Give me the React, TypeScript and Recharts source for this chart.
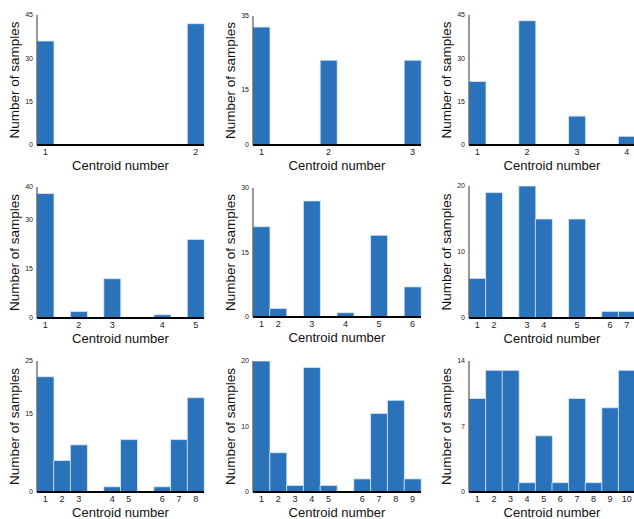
import { BarChart, Bar, XAxis, YAxis } from 'recharts';

// slot positions (0..9) of each centroid along the axis, and samples per centroid
const slotsK2 = [0, 9];
const countsK2 = [36, 42];
const slotsK3 = [0, 4, 9];
const countsK3 = [32, 23, 23];
const slotsK4 = [0, 3, 6, 9];
const countsK4 = [22, 43, 10, 3];
const slotsK5 = [0, 2, 4, 7, 9];
const countsK5 = [38, 2, 12, 1, 24];
const slotsK6 = [0, 1, 3, 5, 7, 9];
const countsK6 = [21, 2, 27, 1, 19, 7];
const slotsK7 = [0, 1, 3, 4, 6, 8, 9];
const countsK7 = [6, 19, 20, 15, 15, 1, 1];
const slotsK8 = [0, 1, 2, 4, 5, 7, 8, 9];
const countsK8 = [22, 6, 9, 1, 10, 1, 10, 18];
const slotsK9 = [0, 1, 2, 3, 4, 6, 7, 8, 9];
const countsK9 = [20, 6, 1, 19, 1, 2, 12, 14, 2];
const slotsK10 = [0, 1, 2, 3, 4, 5, 6, 7, 8, 9];
const countsK10 = [10, 13, 13, 1, 6, 1, 10, 1, 9, 13];

const yTicksK2 = [0, 15, 30, 45];
const yTicksK3 = [0, 15, 35];
const yTicksK4 = [0, 15, 30, 45];
const yTicksK5 = [0, 15, 30, 40];
const yTicksK6 = [0, 15, 30];
const yTicksK7 = [0, 10, 20];
const yTicksK8 = [0, 15, 25];
const yTicksK9 = [0, 10, 20];
const yTicksK10 = [0, 7, 14];

const allSlots = [0, 1, 2, 3, 4, 5, 6, 7, 8, 9];

const panels = [
  { slots: slotsK2, counts: countsK2, yTicks: yTicksK2, x: 37, y: 15, w: 167, h: 130 },
  { slots: slotsK3, counts: countsK3, yTicks: yTicksK3, x: 253, y: 16, w: 168, h: 129 },
  { slots: slotsK4, counts: countsK4, yTicks: yTicksK4, x: 469, y: 15, w: 166, h: 130 },
  { slots: slotsK5, counts: countsK5, yTicks: yTicksK5, x: 37, y: 187, w: 167, h: 131 },
  { slots: slotsK6, counts: countsK6, yTicks: yTicksK6, x: 253, y: 188, w: 168, h: 129 },
  { slots: slotsK7, counts: countsK7, yTicks: yTicksK7, x: 469, y: 186, w: 166, h: 132 },
  { slots: slotsK8, counts: countsK8, yTicks: yTicksK8, x: 37, y: 361, w: 167, h: 131 },
  { slots: slotsK9, counts: countsK9, yTicks: yTicksK9, x: 253, y: 361, w: 168, h: 131 },
  { slots: slotsK10, counts: countsK10, yTicks: yTicksK10, x: 469, y: 361, w: 166, h: 131 },
];

const font = '"Liberation Sans", Arial, Helvetica, sans-serif';
const barColor = '#2a72ba';
const frameColor = '#8c6e66';

const Panel = ({ p }: { p: typeof panels[number] }) => {
  const data = allSlots.map((s) => {
    const i = p.slots.indexOf(s);
    return { slot: s, n: i >= 0 ? p.counts[i] : null };
  });
  const label = (s: number) => {
    const i = p.slots.indexOf(s);
    return i >= 0 ? String(i + 1) : '';
  };
  const top = p.yTicks[p.yTicks.length - 1];

  return (
    <div style={{ position: 'absolute', left: p.x - 37, top: p.y - 15 }}>
      <BarChart
        width={37 + p.w + 1}
        height={15 + p.h + 35}
        data={data}
        margin={{ top: 15, right: 1, bottom: 0, left: 0 }}
        barCategoryGap={0}
        style={{ fontFamily: font }}
      >
        <XAxis
          xAxisId="x"
          dataKey="slot"
          type="category"
          interval={0}
          height={35}
          tickLine={false}
          tickSize={2}
          tickMargin={2}
          tickFormatter={label}
          tick={{ fontSize: 9, fill: '#222' }}
          axisLine={{ stroke: '#000', strokeWidth: 2 }}
          label={{ value: 'Centroid number', position: 'center', dy: 2.5, fontSize: 13, fill: '#111' }}
        />
        <XAxis xAxisId="top" dataKey="slot" orientation="top" height={0} tick={false} tickLine={false}
          axisLine={{ stroke: frameColor, strokeWidth: 1 }} />
        <YAxis
          yAxisId="y"
          width={37}
          domain={[0, top]}
          ticks={p.yTicks}
          allowDataOverflow
          tickLine={false}
          tickSize={2}
          tickMargin={2}
          tick={{ fontSize: 7, fill: '#222' }}
          axisLine={{ stroke: '#333', strokeWidth: 1 }}
          label={{ value: 'Number of samples', angle: -90, position: 'center', dx: -4, fontSize: 13.5, fill: '#111' }}
        />
        <YAxis yAxisId="frame" orientation="right" width={0} tick={false} tickLine={false}
          axisLine={{ stroke: frameColor, strokeWidth: 1 }} />
        <Bar xAxisId="x" yAxisId="y" dataKey="n" fill={barColor} stroke="#dce8f6" strokeWidth={0.8}
          isAnimationActive={false} />
      </BarChart>
    </div>
  );
};

const App = () => (
  <div style={{ position: 'absolute', left: 0, top: 0, width: 634, height: 519, background: '#fff', overflow: 'hidden' }}>
    {panels.map((p, i) => (
      <Panel key={i} p={p} />
    ))}
  </div>
);

export default App;
